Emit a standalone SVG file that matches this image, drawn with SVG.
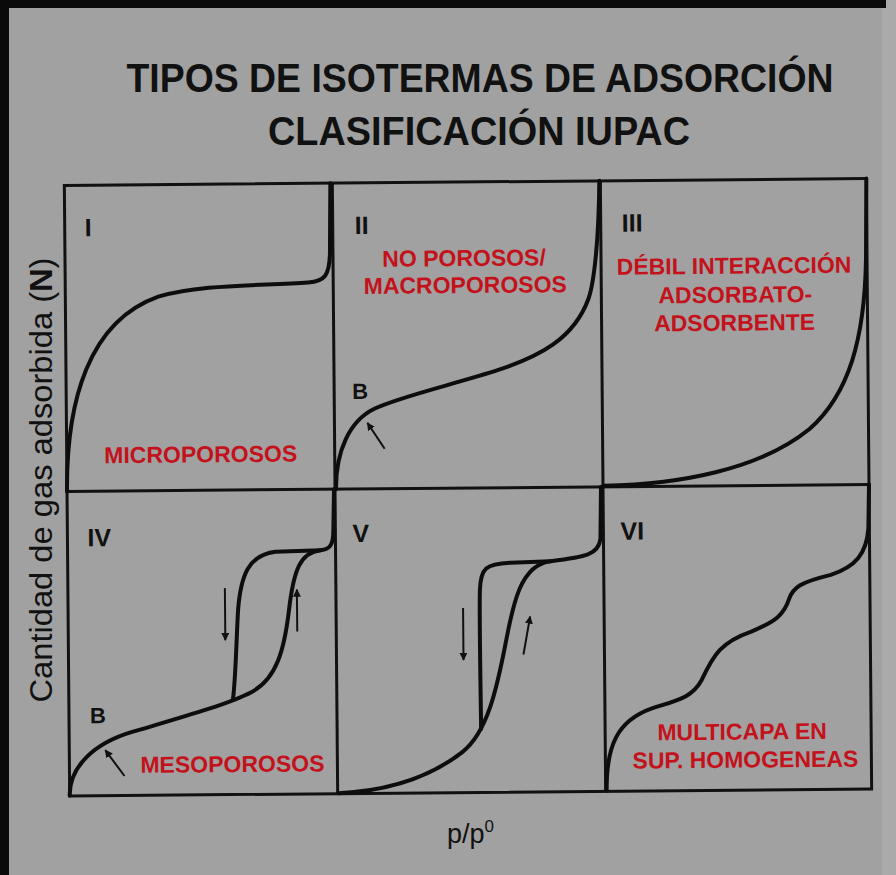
<svg xmlns="http://www.w3.org/2000/svg" width="896" height="875" viewBox="0 0 896 875">
  <defs>
    <marker id="ah" viewBox="0 0 10 10" refX="9" refY="5" markerWidth="4" markerHeight="4" orient="auto" markerUnits="strokeWidth">
      <path d="M0,0 L10,5 L0,10 z" fill="#111"/>
    </marker>
    <style>
      .title{font-family:"Liberation Sans",Arial,sans-serif;font-weight:bold;font-size:40px;fill:#111;text-anchor:middle}
      .box{fill:none;stroke:#111;stroke-width:3}
      .curve{fill:none;stroke:#0d0d0d;stroke-width:4;stroke-linecap:round;stroke-linejoin:round}
      .roman{font-family:"Liberation Sans",Arial,sans-serif;font-weight:bold;font-size:25px;fill:#111}
      .b{font-family:"Liberation Sans",Arial,sans-serif;font-weight:bold;font-size:22px;fill:#111}
      .red{font-family:"Liberation Sans",Arial,sans-serif;font-weight:bold;font-size:23px;fill:#c3121b;text-anchor:middle}
      .axis{font-family:"Liberation Sans",Arial,sans-serif;fill:#111}
      .arr{fill:none;stroke:#111;stroke-width:2;marker-end:url(#ah)}
    </style>
  </defs>
  <rect x="0" y="0" width="896" height="875" fill="#a1a1a1"/>
  <rect x="882" y="0" width="14" height="875" fill="#aaaaaa"/>
  <rect x="0" y="0" width="886" height="8" fill="#0a0a0a"/>
  <rect x="0" y="0" width="9" height="875" fill="#0a0a0a"/>

  <g id="title">
    <text class="title" x="480" y="92" textLength="707" lengthAdjust="spacingAndGlyphs">TIPOS DE ISOTERMAS DE ADSORCIÓN</text>
    <text class="title" x="479" y="145" textLength="422" lengthAdjust="spacingAndGlyphs">CLASIFICACIÓN IUPAC</text>
  </g>

  <g id="y-axis-label">
    <text class="axis" font-size="32" text-anchor="middle" transform="translate(52,480) rotate(-90)" textLength="445" lengthAdjust="spacingAndGlyphs">Cantidad de gas adsorbida (<tspan font-weight="bold">N</tspan>)</text>
  </g>
  <g id="x-axis-label">
    <text class="axis" font-size="27" x="447" y="843">p/p<tspan font-size="17" dy="-11">0</tspan></text>
  </g>

  <g id="chart" transform="rotate(-0.5 468 487)">
    <g id="grid">
      <rect class="box" x="67" y="182" width="802" height="610.5"/>
      <line class="box" x1="335" y1="182" x2="335" y2="792.5"/>
      <line class="box" x1="603" y1="182" x2="603" y2="792.5"/>
      <line class="box" x1="67" y1="488" x2="869" y2="488"/>
    </g>

    <g id="panel-I">
      <text class="roman" x="87" y="233">I</text>
      <path class="curve" d="M67,488 C67,398 90,318 160,294 C200,282 260,284 310,281 C327,280 331,274 332,253 L333,182"/>
      <text class="red" x="201" y="460">MICROPOROSOS</text>
    </g>

    <g id="panel-II">
      <text class="roman" x="357" y="233">II</text>
      <text class="red" x="466" y="266">NO POROSOS/</text>
      <text class="red" x="467" y="293">MACROPOROSOS</text>
      <text class="b" x="353" y="398">B</text>
      <path class="curve" d="M336,488 C336,450 350,420 375,408 C400,396 460,383 500,370 C540,357 575,340 590,300 C596,284 601,240 602,182"/>
    </g>

    <g id="panel-III">
      <text class="roman" x="624" y="233">III</text>
      <text class="red" x="736" y="276">DÉBIL INTERACCIÓN</text>
      <text class="red" x="737" y="305">ADSORBATO-</text>
      <text class="red" x="736" y="333">ADSORBENTE</text>
      <path class="curve" d="M604,487 C680,486 760,472 810,432 C850,397 866,342 868,262 L869,182"/>
    </g>

    <g id="panel-IV">
      <text class="roman" x="87" y="543">IV</text>
      <text class="b" x="88" y="720">B</text>
      <text class="red" x="230" y="770">MESOPOROSOS</text>
      <path class="curve" d="M67,792 C67,763 92,740 130,729 C168,718 225,703 250,690 C275,677 283,648 288,608 C293,568 300,551 320,549 C330,548 333,543 333,528 L334,488"/>
      <path class="curve" d="M231,698 C234,678 235,638 237,608 C240,573 248,553 275,550 L320,549"/>
    </g>

    <g id="panel-V">
      <text class="roman" x="352" y="541">V</text>
      <path class="curve" d="M336,792 C390,790 430,775 460,752 C485,733 495,690 505,640 C512,605 520,565 550,562 C585,558 598,556 600,540 L601,488"/>
      <path class="curve" d="M479,729 C479,705 478,620 479,590 C480,568 485,564 510,563 L550,562"/>
    </g>

    <g id="panel-VI">
      <text class="roman" x="620" y="541">VI</text>
      <path class="curve" d="M604,792 C604,747 615,722 650,710 C675,702 690,700 700,682 C712,657 720,644 750,634 C775,624 783,617 788,602 C792,590 800,585 830,578 C855,570 866,557 868,532 L869,488"/>
      <text class="red" x="740" y="742">MULTICAPA EN</text>
      <text class="red" x="743" y="770">SUP. HOMOGENEAS</text>
    </g>

    <g id="connectors">
      <line class="arr" x1="385" y1="448" x2="368" y2="422"/>
      <line class="arr" x1="122" y1="773" x2="103" y2="747"/>
      <line class="arr" x1="224" y1="586" x2="224" y2="638"/>
      <line class="arr" x1="296" y1="630" x2="296" y2="588"/>
      <line class="arr" x1="462" y1="608" x2="462" y2="660"/>
      <line class="arr" x1="522" y1="655" x2="529" y2="617"/>
    </g>
  </g>
</svg>
